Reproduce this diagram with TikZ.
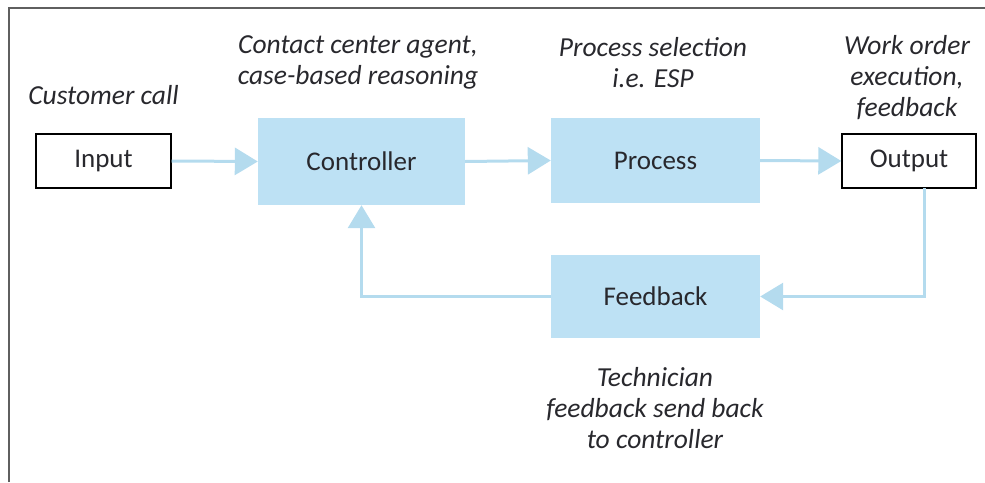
\documentclass[tikz,border=0pt]{standalone}
\usepackage{fontspec}
\setmainfont{Carlito}
\usetikzlibrary{arrows.meta}
\definecolor{boxblue}{RGB}{189,225,244}
\definecolor{arrblue}{RGB}{180,219,238}
\definecolor{txt}{RGB}{40,40,45}
\definecolor{framegray}{RGB}{95,95,95}
\tikzset{
  plainbox/.style={draw=black, line width=1.4pt, fill=white, minimum width=135pt, minimum height=54pt, inner sep=0pt, text=txt, font=\fontsize{27}{30}\selectfont},
  bluebox/.style={fill=boxblue, draw=none, minimum width=208pt, minimum height=86pt, inner sep=0pt, text=txt, font=\fontsize{27}{30}\selectfont},
  arr/.style={draw=arrblue, line width=3pt, -{Triangle[length=23pt,width=27pt]}},
  note/.style={align=center, text=txt, inner sep=0pt, font=\fontsize{27.5}{31}\selectfont\itshape},
}
\begin{document}
\begin{tikzpicture}[x=1pt,y=-1pt]
\useasboundingbox (0,0) rectangle (985,482);
\draw[framegray, line width=1.5pt] (9,482) -- (9,8) -- (985,8);
\node[plainbox] (input) at (103.5,161) {Input};
\node[bluebox, minimum width=207pt, minimum height=87pt] (controller) at (361.5,161.5) {Controller};
\node[bluebox, minimum width=209pt, minimum height=85pt] (process) at (655.5,160.5) {Process};
\node[plainbox, minimum width=134pt] (output) at (909,161) {Output};
\node[bluebox, minimum width=209pt, minimum height=83pt] (feedback) at (655.5,296.5) {Feedback};
\coordinate (outdown) at (924,188);
\draw[arr] (input.east) -- (controller.west);
\draw[arr] (controller.east) -- (process.west);
\draw[arr] (process.east) -- (output.west);
\draw[arr] (outdown) |- (feedback.east);
\draw[arr] (feedback.west) -| (controller.south);
\node[note] (n1) at (103.5,95) {Customer call};
\node[note] (n2) at (358,62) {Contact center agent,\\case-based reasoning};
\node[note] (n3) at (653,63) {Process selection\\i.e. ESP};
\node[note] (n4) at (907,78) {Work order\\execution,\\feedback};
\node[note] (n5) at (655,408) {Technician\\feedback send back\\to controller};
\end{tikzpicture}
\end{document}
